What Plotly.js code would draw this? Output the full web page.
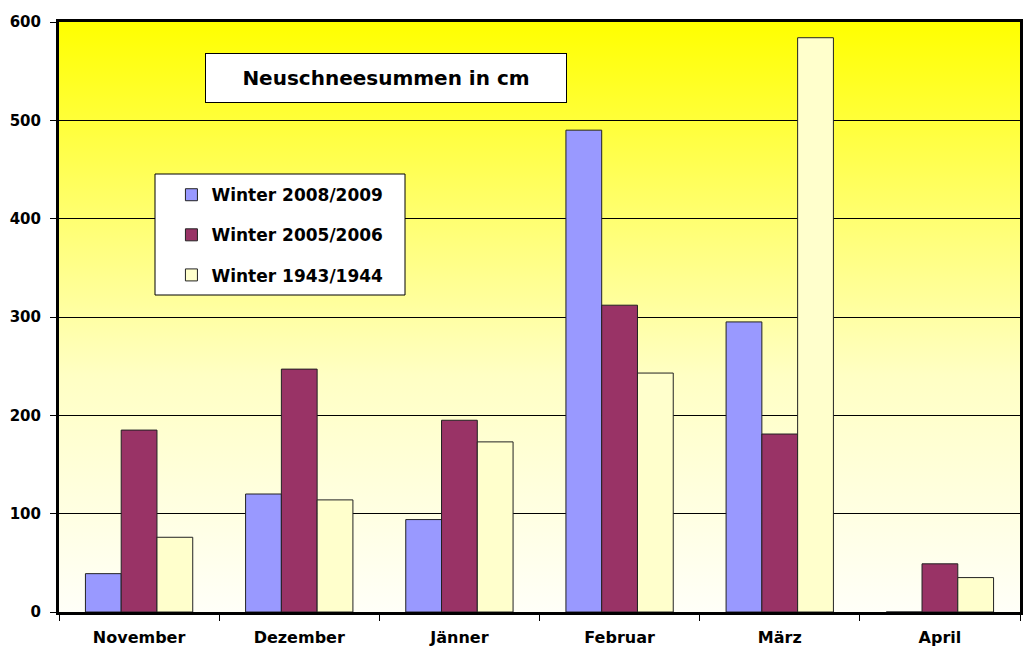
<!DOCTYPE html>
<html><head><meta charset="utf-8">
<script src="https://cdn.plot.ly/plotly-3.0.1.min.js"></script>
<style>html,body{margin:0;padding:0;background:#fff}#chart{width:1027px;height:663px}</style>
</head><body><div id="chart"></div>
<script>
const months = ["November", "Dezember", "Jänner", "Februar", "März", "April"];
const seriesNames = ["Winter 2008/2009", "Winter 2005/2006", "Winter 1943/1944"];
const winter2008 = [39, 120, 94, 490, 295, 0];
const winter2005 = [185, 247, 195, 312, 181, 49];
const winter1943 = [76, 114, 173, 243, 584, 35];
const colors = ["#9999FF", "#993366", "#FFFFCC"];
const yTicks = [0, 100, 200, 300, 400, 500, 600];

const fam = "DejaVu Sans, Verdana, sans-serif";
const values = [winter2008, winter2005, winter1943];
const traces = values.map((v, i) => ({
  type: "bar", x: months, y: v, name: seriesNames[i],
  legendgroup: "g" + i,
  marker: {color: colors[i], line: {color: "#222", width: 1}},
  hoverinfo: "x+y+name"
}));

const grad = '<svg xmlns="http://www.w3.org/2000/svg" width="10" height="100" preserveAspectRatio="none"><defs><linearGradient id="g" x1="0" y1="0" x2="0" y2="1"><stop offset="0" stop-color="#FFFF00"/><stop offset="0.3" stop-color="#FFFF66"/><stop offset="0.6" stop-color="#FFFFC4"/><stop offset="1" stop-color="#FFFFF8"/></linearGradient></defs><rect width="10" height="100" fill="url(#g)"/></svg>';

const layout = {
  width: 1027, height: 663,
  margin: {l: 59, r: 7, t: 22, b: 51},
  paper_bgcolor: "#fff", plot_bgcolor: "rgba(0,0,0,0)",
  font: {family: fam, size: 16, color: "#000"},
  barmode: "group", bargap: 0.33, bargroupgap: 0,
  showlegend: true,
  legend: {
    x: 0.117, y: 0.737, xanchor: "left", yanchor: "top",
    bgcolor: "rgba(0,0,0,0)", borderwidth: 0,
    font: {family: fam, size: 17, color: "#000", weight: "bold"},
    traceorder: "grouped", tracegroupgap: 15
  },
  xaxis: {
    type: "category", showline: true, linewidth: 3, linecolor: "#000", mirror: true,
    ticks: "outside", tickson: "boundaries", ticklen: 6, tickcolor: "#000", tickwidth: 1,
    ticklabelstandoff: 9,
    tickfont: {family: fam, size: 16, color: "#000", weight: "bold"},
    showgrid: false, zeroline: false, fixedrange: true
  },
  yaxis: {
    range: [0, 600], tickvals: yTicks, ticktext: yTicks.map(String),
    showline: true, linewidth: 3, linecolor: "#000", mirror: true,
    ticks: "outside", ticklen: 6, tickcolor: "#000", tickwidth: 1,
    ticklabelstandoff: 6,
    tickfont: {family: fam, size: 15, color: "#000", weight: "bold"},
    showgrid: true, gridcolor: "#000", gridwidth: 1, zeroline: false, fixedrange: true
  },
  images: [{
    source: "data:image/svg+xml;charset=utf-8," + encodeURIComponent(grad),
    xref: "x domain", yref: "y domain", x: 0, y: 1, sizex: 1, sizey: 1,
    xanchor: "left", yanchor: "top", sizing: "stretch", layer: "below"
  }],
  shapes: [{
    type: "rect", xref: "paper", yref: "paper",
    x0: (155 - 59) / 961, x1: (405 - 59) / 961,
    y0: (612 - 295) / 590, y1: (612 - 174) / 590,
    fillcolor: "#fff", line: {color: "#000", width: 1}, layer: "above"
  }],
  annotations: [{
    text: "Neuschneesummen in cm", xref: "paper", yref: "paper",
    x: 0.340, y: 0.905, xanchor: "center", yanchor: "middle", showarrow: false,
    width: 360, height: 48, borderpad: 0,
    bgcolor: "#fff", bordercolor: "#000", borderwidth: 1,
    font: {family: fam, size: 20, color: "#000", weight: "bold"}
  }]
};

Plotly.newPlot("chart", traces, layout, {displayModeBar: false, staticPlot: true});
</script></body></html>
